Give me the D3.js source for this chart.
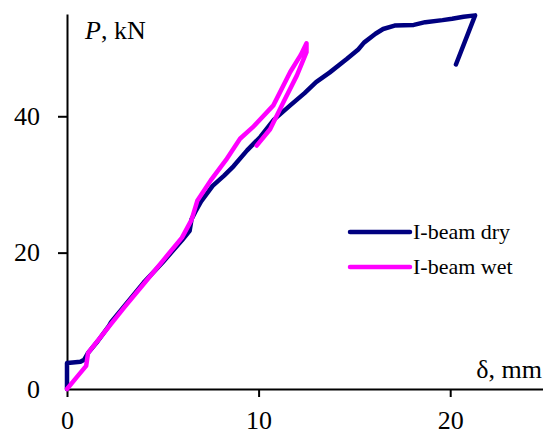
<!DOCTYPE html>
<html>
<head>
  <meta charset="utf-8">
  <style>
    body { margin: 0; background: #fff; }
    svg { display: block; }
    text { font-family: "Liberation Serif", "Times New Roman", serif; fill: #000; }
  </style>
</head>
<body>

  <div id="chart"></div>

  <script src="https://d3js.org/d3.v7.min.js"></script>

  <script>
    // deflection (mm) and load (kN)
    var dryX = [0, 0, 0.3, 0.7, 0.9, 1.1, 1.6, 2.2, 2.3, 3, 4, 5, 6, 6.4, 6.5, 6.7, 7, 7.6, 8.2, 8.7, 9.4, 10.1, 10.8, 11.65, 12.4, 13, 13.7, 14.6, 15.2, 15.5, 16.1, 16.5, 17.1, 18.1, 18.7, 19.6, 20.1, 20.7, 21.3, 20.3];
    var dryY = [0, 3.8, 3.9, 4.0, 4.3, 5.3, 7.0, 9.3, 9.8, 12.2, 15.6, 18.6, 21.8, 23.2, 24.9, 26.0, 27.5, 29.8, 31.3, 32.7, 35.0, 37.0, 39.5, 41.6, 43.4, 45.0, 46.4, 48.4, 49.8, 50.8, 52.1, 52.8, 53.3, 53.4, 53.8, 54.1, 54.3, 54.6, 54.8, 47.6];

    var wetX = [0, 0.5, 1.0, 1.1, 2, 3, 4, 5, 6, 6.5, 6.8, 7.5, 8.3, 9.03, 9.7, 10.77, 11.65, 12.2, 12.5, 12.5, 12.0, 11.3, 10.6, 9.9];
    var wetY = [0, 1.7, 3.4, 5.3, 8.5, 12, 15.4, 18.8, 22.2, 24.8, 27.6, 30.6, 33.6, 36.7, 38.4, 41.6, 46.5, 49.0, 50.7, 49.4, 46.0, 42.1, 38.1, 35.7];

    var seriesNames = ['I-beam dry', 'I-beam wet'];
    var seriesColors = ['#000080', '#ff00ff'];

    var xTicks = [0, 10, 20];
    var yTicks = [0, 20, 40];

    var width = 543, height = 435;

    var svg = d3.select('#chart')
        .append('svg')
        .attr('width', width)
        .attr('height', height);

    var x = d3.scaleLinear()
        .domain([0, 25])
        .range([67, 546]);

    var y = d3.scaleLinear()
        .domain([0, 55])
        .range([389, 14]);

    // axes
    var xAxis = svg.append('g')
        .attr('transform', 'translate(0,' + y(0) + ')')
        .call(d3.axisBottom(x).tickValues(xTicks).tickSize(8).tickSizeOuter(0).tickPadding(14));

    var yAxis = svg.append('g')
        .attr('transform', 'translate(' + x(0) + ',0)')
        .call(d3.axisLeft(y).tickValues(yTicks.filter(d => d > 0)).tickSize(9).tickSizeOuter(0).tickPadding(18));

    [xAxis, yAxis].forEach(function (g) {
      g.select('.domain').attr('stroke', '#000').attr('stroke-width', 2);
      g.selectAll('.tick line').attr('stroke', '#000').attr('stroke-width', 2);
      g.selectAll('.tick text')
          .style('font-family', '"Liberation Serif", serif')
          .style('font-size', '26px')
          .attr('fill', '#000');
    });

    // the "0" on the y axis sits at the axis origin
    svg.append('text')
        .attr('x', 40)
        .attr('y', y(0) + 9)
        .attr('text-anchor', 'end')
        .style('font-size', '26px')
        .text('0');

    // axis titles
    var pLabel = svg.append('text')
        .attr('x', 85)
        .attr('y', 39)
        .style('font-size', '26px');
    pLabel.append('tspan').style('font-style', 'italic').text('P');
    pLabel.append('tspan').text(', kN');

    svg.append('text')
        .attr('x', 542)
        .attr('y', 378)
        .attr('text-anchor', 'end')
        .style('font-size', '26px')
        .text('δ, mm');

    // curves
    var line = d3.line()
        .x(d => x(d[0]))
        .y(d => y(d[1]));

    var series = [
      d3.zip(dryX, dryY),
      d3.zip(wetX, wetY)
    ];

    svg.selectAll('path.curve')
        .data(series)
        .enter().append('path')
        .attr('class', 'curve')
        .attr('d', line)
        .attr('fill', 'none')
        .attr('stroke', (d, i) => seriesColors[i])
        .attr('stroke-width', 4.5)
        .attr('stroke-linejoin', 'round')
        .attr('stroke-linecap', 'round');

    // legend
    var legend = svg.selectAll('g.legend')
        .data(seriesNames)
        .enter().append('g')
        .attr('class', 'legend')
        .attr('transform', (d, i) => 'translate(350,' + (232 + i * 35) + ')');

    legend.append('line')
        .attr('x1', 0)
        .attr('x2', 60)
        .attr('stroke', (d, i) => seriesColors[i])
        .attr('stroke-width', 4.5)
        .attr('stroke-linecap', 'round');

    legend.append('text')
        .attr('x', 63)
        .attr('y', 7)
        .style('font-size', '22px')
        .text(d => d);
  </script>
</body>
</html>
